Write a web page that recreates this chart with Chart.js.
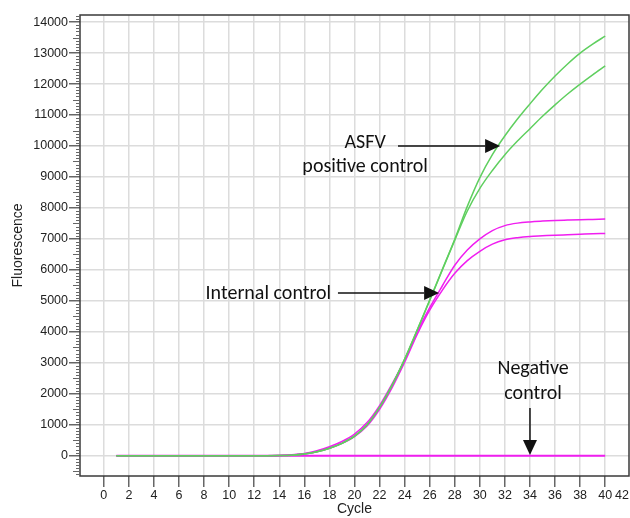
<!DOCTYPE html>
<html>
<head>
<meta charset="utf-8">
<script src="https://cdn.jsdelivr.net/npm/chart.js@4.4.1/dist/chart.umd.min.js"></script>
<style>
  html, body { margin: 0; padding: 0; background: #ffffff; }
  canvas { display: block; }
</style>
</head>
<body>
<canvas id="c" width="630" height="518"></canvas>
<script>
// ---------- data ----------
const cycles = [1,2,3,4,5,6,7,8,9,10,11,12,13,14,15,16,17,18,19,20,21,22,23,24,25,26,27,28,29,30,31,32,33,34,35,36,37,38,39,40];

const asfvHigh = [0,0,0,0,0,0,0,0,0,0,0,0,0,4,18,55,125,240,400,630,1000,1560,2280,3120,4060,5030,6010,6990,8050,8980,9720,10330,10870,11360,11830,12260,12650,13000,13290,13548];
const asfvLow  = [0,0,0,0,0,0,0,0,0,0,0,0,0,4,18,55,125,240,400,630,1000,1560,2270,3110,4050,5010,5990,6960,7900,8630,9210,9720,10160,10560,10960,11330,11680,12000,12300,12590];
const icHigh   = [0,0,0,0,0,0,0,0,0,0,0,0,0,8,28,75,160,290,460,700,1070,1620,2320,3100,4000,4780,5480,6150,6640,7000,7270,7430,7510,7550,7575,7595,7608,7620,7630,7640];
const icLow    = [0,0,0,0,0,0,0,0,0,0,0,0,0,5,22,60,130,240,400,620,960,1500,2200,3020,3920,4700,5340,5890,6300,6600,6830,6970,7040,7080,7100,7120,7135,7150,7165,7178];
const negative = [0,0,0,0,0,0,0,0,0,0,0,0,0,0,0,0,0,0,0,0,0,0,0,0,0,0,0,0,0,0,0,0,0,0,0,0,0,0,0,0];

const xTicks = [0,2,4,6,8,10,12,14,16,18,20,22,24,26,28,30,32,34,36,38,40];
const xEndLabel = '42';
const xMin = -1.9, xMax = 41.9;
const yMin = -655, yMax = 14230;
const yMajorStep = 1000, yMinorStep = 100;

const xTitle = 'Cycle';
const yTitle = 'Fluorescence';

// annotations (data coordinates)
const notes = [
  { text: 'ASFV', x: 20.85, y: 10094 },
  { text: 'positive control', x: 20.85, y: 9319 },
  { text: 'Internal control', x: 13.13, y: 5220 },
  { text: 'Negative', x: 34.25, y: 2799 },
  { text: 'control', x: 34.25, y: 1992 }
];
const arrows = [
  { from: [23.47, 10000], to: [31.62, 10000] },
  { from: [18.68, 5252], to: [26.75, 5252] },
  { from: [34.0, 1540], to: [34.0, 20] }
];

// ---------- styling ----------
const GREEN = '#5fcf5f';
const PINK = '#f01ef0';
const GRID = '#dcdcdc';
const AXIS = '#3a3a3a';
const TICKC = '#666666';

function series(vals) { return cycles.map((c, i) => ({ x: c, y: vals[i] })); }
function ds(vals, color, w) {
  return { data: series(vals), borderColor: color, borderWidth: w || 1.5, pointRadius: 0,
           fill: false, cubicInterpolationMode: 'monotone' };
}

const minorTicks = {
  id: 'minorTicks',
  afterDraw(chart) {
    const ys = chart.scales.y, ctx = chart.ctx, left = chart.chartArea.left;
    ctx.save();
    ctx.strokeStyle = TICKC;
    ctx.lineWidth = 1;
    for (const t of ys.ticks) {
      if (t.value % yMajorStep === 0) continue;
      const len = (t.value % 500 === 0) ? 7 : 4;
      const p = Math.round(ys.getPixelForValue(t.value)) + 0.5;
      ctx.beginPath(); ctx.moveTo(left - len, p); ctx.lineTo(left, p); ctx.stroke();
    }
    ctx.restore();
  }
};

const frame = {
  id: 'frame',
  afterDatasetsDraw(chart) {
    const a = chart.chartArea, ctx = chart.ctx;
    ctx.save();
    ctx.strokeStyle = AXIS; ctx.lineWidth = 1.5;
    ctx.strokeRect(a.left, a.top, a.right - a.left, a.bottom - a.top);
    ctx.restore();
  }
};

const annot = {
  id: 'annot',
  afterDraw(chart) {
    const xs = chart.scales.x, ys = chart.scales.y, ctx = chart.ctx;
    ctx.save();
    ctx.fillStyle = '#111';
    ctx.font = '20px Carlito, Calibri, Lato, sans-serif';
    ctx.textAlign = 'center';
    ctx.textBaseline = 'middle';
    for (const n of notes) {
      ctx.fillText(n.text, xs.getPixelForValue(n.x), ys.getPixelForValue(n.y));
    }
    ctx.strokeStyle = '#111'; ctx.lineWidth = 1.5;
    for (const a of arrows) {
      const x1 = xs.getPixelForValue(a.from[0]), y1 = ys.getPixelForValue(a.from[1]);
      const x2 = xs.getPixelForValue(a.to[0]), y2 = ys.getPixelForValue(a.to[1]);
      const ang = Math.atan2(y2 - y1, x2 - x1);
      const hl = 15, hw = 7;
      const bx = x2 - hl * Math.cos(ang), by = y2 - hl * Math.sin(ang);
      ctx.beginPath(); ctx.moveTo(x1, y1); ctx.lineTo(bx, by); ctx.stroke();
      ctx.beginPath();
      ctx.moveTo(x2, y2);
      ctx.lineTo(bx + hw * Math.sin(ang), by - hw * Math.cos(ang));
      ctx.lineTo(bx - hw * Math.sin(ang), by + hw * Math.cos(ang));
      ctx.closePath(); ctx.fill();
    }
    ctx.restore();
  }
};

new Chart(document.getElementById('c'), {
  type: 'line',
  data: {
    datasets: [
      ds(asfvHigh, GREEN), ds(asfvLow, GREEN),
      ds(icHigh, PINK), ds(icLow, PINK),
      ds(negative, PINK, 2)
    ]
  },
  options: {
    responsive: false,
    animation: false,
    layout: { padding: { top: 15, right: 1, left: 0, bottom: 0 } },
    plugins: { legend: { display: false }, tooltip: { enabled: false } },
    scales: {
      x: {
        type: 'linear', min: xMin, max: xMax,
        afterBuildTicks(s) {
          s.ticks = [{ value: xMin }].concat(xTicks.map(v => ({ value: v })), [{ value: xMax }]);
        },
        afterFit(s) { s.height = 42; },
        border: { display: false },
        grid: {
          color: c => (c.tick && (c.tick.value === xMin || c.tick.value === xMax)) ? 'rgba(0,0,0,0)' : GRID,
          tickColor: c => (c.tick && (c.tick.value === xMin || c.tick.value === xMax)) ? 'rgba(0,0,0,0)' : TICKC,
          lineWidth: 1.5, tickLength: 11, tickWidth: 1.5
        },
        ticks: {
          autoSkip: false, maxRotation: 0, align: 'inner', padding: 1,
          color: '#222', font: { family: 'Liberation Sans, Arial, sans-serif', size: 12.5 },
          callback: (v) => v === xMax ? xEndLabel : (v === xMin ? '' : String(v))
        },
        title: { display: true, text: xTitle, color: '#222', padding: { top: 0, bottom: 0 },
                 font: { family: 'Liberation Sans, Arial, sans-serif', size: 14 } }
      },
      y: {
        type: 'linear', min: yMin, max: yMax,
        afterBuildTicks(s) {
          const t = [];
          for (let v = Math.ceil(yMin / yMinorStep) * yMinorStep; v <= yMax; v += yMinorStep) t.push({ value: v });
          s.ticks = t;
        },
        afterFit(s) { s.width = 80; },
        border: { display: false },
        grid: {
          color: c => (c.tick && c.tick.value % yMajorStep === 0) ? GRID : 'rgba(0,0,0,0)',
          tickColor: c => (c.tick && c.tick.value % yMajorStep === 0) ? TICKC : 'rgba(0,0,0,0)',
          lineWidth: 1.5, tickLength: 11, tickWidth: 1.5
        },
        ticks: {
          autoSkip: false, padding: 1,
          color: '#222', font: { family: 'Liberation Sans, Arial, sans-serif', size: 12.5 },
          callback: (v) => (v % yMajorStep === 0) ? String(v) : ''
        },
        title: { display: true, text: yTitle, color: '#222', padding: { top: 10, bottom: 0 },
                 font: { family: 'Liberation Sans, Arial, sans-serif', size: 14 } }
      }
    }
  },
  plugins: [minorTicks, frame, annot]
});
</script>
</body>
</html>
